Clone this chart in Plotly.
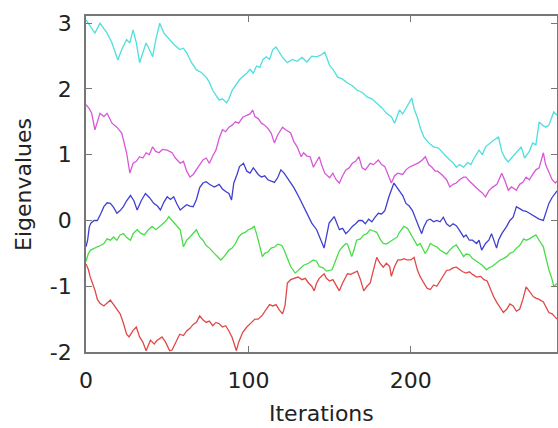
import plotly.graph_objects as go

# ---- data (iteration, eigenvalue) ----
cyan_x = [0, 3, 5.5, 8.6, 11, 13, 16, 19.6, 22, 25, 27, 29, 31, 33, 35, 37, 39, 41, 43, 45.4, 48, 51.5, 54, 57.7, 60, 62, 65, 68, 71, 74, 76, 78, 80, 82, 84, 86.5, 88, 90, 92, 94.5, 97, 99, 101, 103, 105, 107, 109, 111, 113, 115, 117, 119, 121, 124, 127, 130, 133, 136, 139, 142, 145, 147, 150, 152, 155, 158, 161, 164, 167, 170, 173, 176, 179, 182, 185, 188, 190, 192, 193, 195, 197, 199, 200.6, 202, 204, 206, 208, 211, 214, 217, 220, 222, 224, 226, 228, 230, 232.5, 235, 237, 239, 242, 244, 246, 248.6, 251, 254, 256, 258, 260, 262, 265, 268, 270, 273, 275, 277, 279, 281, 283, 285, 288, 290]
cyan_y = [3.05, 2.95, 2.85, 3.0, 2.92, 2.85, 2.7, 2.44, 2.6, 2.75, 2.7, 2.9, 2.7, 2.4, 2.55, 2.7, 2.6, 2.49, 2.75, 3.0, 2.85, 2.75, 2.68, 2.6, 2.62, 2.55, 2.4, 2.29, 2.25, 2.18, 2.1, 1.98, 1.9, 1.83, 1.85, 1.79, 1.85, 1.98, 2.05, 2.14, 2.2, 2.24, 2.3, 2.24, 2.35, 2.33, 2.45, 2.49, 2.45, 2.6, 2.64, 2.55, 2.48, 2.4, 2.45, 2.42, 2.48, 2.41, 2.5, 2.49, 2.52, 2.56, 2.36, 2.3, 2.18, 2.15, 2.09, 2.05, 1.98, 1.95, 1.88, 1.85, 1.79, 1.72, 1.63, 1.58, 1.48, 1.6, 1.68, 1.62, 1.7, 1.78, 1.86, 1.7, 1.57, 1.4, 1.27, 1.18, 1.12, 1.1, 1.03, 0.97, 0.92, 0.88, 0.81, 0.85, 0.81, 0.88, 0.85, 0.95, 1.07, 1.0, 1.12, 1.18, 1.22, 1.27, 1.05, 0.95, 0.89, 0.95, 1.03, 1.12, 0.95, 1.05, 1.18, 1.15, 1.5, 1.45, 1.42, 1.45, 1.65, 1.6]

magenta_x = [0, 2, 3.5, 5.5, 7, 8.6, 11, 13, 16, 19, 22, 24, 25, 27, 29, 31, 33, 35, 37, 39, 41, 43, 45, 47, 50, 53, 55, 58, 60, 62, 64, 66, 68, 70, 72, 74, 76, 78, 80, 82, 84, 86, 88, 90, 92, 94, 96.5, 99, 101, 102.6, 104, 106, 108, 110, 112, 114, 116, 118, 121, 123, 126, 128, 130, 132.5, 134, 136, 138, 140, 142, 143.6, 145, 147, 150, 152, 154, 156, 158, 160, 162, 164, 166, 168, 170, 172, 175, 177, 180, 182, 184, 186, 188, 190, 192, 195, 197, 199, 202, 205, 207, 209, 211, 213, 215, 216.5, 219, 222, 224, 226, 228, 230, 232.5, 234, 236, 238, 240, 242, 244, 246, 248, 250, 253, 256, 258, 260, 262, 265, 267, 269, 271, 273, 275, 277, 279, 281.6, 283, 285, 287, 289, 290]
magenta_y = [1.76, 1.7, 1.63, 1.38, 1.5, 1.63, 1.58, 1.63, 1.48, 1.42, 1.33, 1.15, 1.03, 0.72, 0.87, 0.9, 0.97, 0.95, 1.03, 1.0, 1.12, 1.05, 1.03, 1.08, 1.07, 1.03, 0.95, 0.87, 0.9, 0.75, 0.66, 0.7, 0.77, 0.85, 0.92, 0.95, 0.87, 0.98, 1.07, 1.25, 1.38, 1.35, 1.42, 1.45, 1.5, 1.48, 1.57, 1.6, 1.62, 1.68, 1.58, 1.55, 1.48, 1.45, 1.4, 1.33, 1.18, 1.3, 1.42, 1.38, 1.33, 1.2, 1.12, 0.97, 1.03, 0.98, 0.97, 0.81, 0.9, 0.97, 0.85, 0.72, 0.65, 0.72, 0.62, 0.57, 0.68, 0.77, 0.8, 0.87, 0.9, 0.97, 0.8, 0.77, 0.87, 0.85, 0.92, 0.85, 0.82, 0.7, 0.57, 0.68, 0.72, 0.7, 0.77, 0.81, 0.85, 0.88, 0.92, 0.97, 0.85, 0.81, 0.75, 0.75, 0.7, 0.62, 0.51, 0.55, 0.57, 0.62, 0.66, 0.66, 0.6, 0.55, 0.5, 0.46, 0.42, 0.36, 0.45, 0.5, 0.55, 0.72, 0.6, 0.46, 0.51, 0.46, 0.55, 0.58, 0.66, 0.62, 0.7, 0.77, 0.8, 1.03, 0.85, 0.72, 0.62, 0.57, 0.6]

blue_x = [0, 1, 2, 3, 5, 7, 9, 11, 13, 15, 17, 19, 21, 23, 25, 27.4, 29.5, 31.5, 34, 36.6, 39, 41.7, 44, 45.8, 48, 50, 52, 54, 56, 58, 60, 62, 64, 66, 68, 70, 72, 74, 76, 79, 82, 84, 86, 88, 89.6, 91, 93, 94.5, 97, 99, 101, 103, 104, 106, 108, 110, 112, 114, 116, 118, 120, 122, 124, 126, 128, 131, 134, 136, 139, 142, 144, 146.6, 148, 149.7, 152.8, 154, 156, 158, 160, 162, 164, 166, 168, 170, 172, 174, 176, 178, 180, 182, 184, 186.5, 188, 189.6, 191, 193, 195, 197, 199, 201, 203.7, 205, 206.7, 208, 210, 212, 214, 216, 218, 220, 222, 224, 226, 228, 230, 232.5, 234, 236, 238, 240.5, 242, 243.6, 246, 248, 249.7, 251, 252.8, 254, 256, 259, 261, 263, 265, 267, 269, 271, 273, 275, 277, 279, 281.6, 283, 285, 287, 290]
blue_y = [-0.4, -0.3, -0.1, -0.04, 0.0, 0.0, 0.1, 0.21, 0.27, 0.26, 0.2, 0.11, 0.15, 0.21, 0.3, 0.38, 0.3, 0.16, 0.3, 0.41, 0.35, 0.26, 0.22, 0.16, 0.28, 0.36, 0.32, 0.36, 0.25, 0.16, 0.2, 0.24, 0.22, 0.21, 0.32, 0.5, 0.57, 0.59, 0.55, 0.51, 0.55, 0.48, 0.44, 0.41, 0.31, 0.57, 0.7, 0.82, 0.87, 0.75, 0.72, 0.8, 0.77, 0.7, 0.66, 0.68, 0.62, 0.6, 0.58, 0.65, 0.77, 0.72, 0.65, 0.57, 0.5, 0.36, 0.21, 0.1, -0.04, -0.14, -0.25, -0.42, -0.25, -0.04, 0.06, -0.02, -0.14, -0.12, -0.2, -0.15, -0.09, -0.05, 0.0, 0.0, -0.05, 0.02, -0.02, 0.05, 0.11, 0.1, 0.15, 0.36, 0.45, 0.57, 0.52, 0.45, 0.38, 0.26, 0.22, 0.15, -0.04, -0.1, -0.2, -0.1, 0.0, 0.02, -0.02, 0.0, -0.02, 0.05, -0.05, -0.09, -0.05, -0.08, -0.15, -0.25, -0.22, -0.3, -0.3, -0.35, -0.3, -0.45, -0.35, -0.3, -0.2, -0.3, -0.42, -0.3, -0.2, -0.09, 0.0, 0.05, 0.21, 0.18, 0.15, 0.14, 0.11, 0.08, 0.05, 0.02, 0.0, 0.1, 0.26, 0.35, 0.45]

green_x = [0, 1.5, 2.9, 5, 7, 9, 11, 13, 15, 17, 19, 21, 23, 25, 27.4, 29, 31.5, 34, 36, 38, 40.7, 43, 45, 47.9, 50, 51, 53, 55, 57, 58, 60, 62, 64, 66, 68, 70, 72, 74, 76, 79, 81, 83, 85, 88, 90, 92, 94, 96, 98, 100, 102, 103.5, 105, 106.5, 108.6, 110, 112, 114, 116.5, 118, 120.6, 122, 124.7, 126, 128.8, 130, 132, 134, 137, 140, 142, 143.6, 146, 148, 151.5, 154, 156, 158, 160, 161, 163.6, 165, 166.6, 169, 171, 173, 174.8, 177, 179, 181, 183, 185, 187, 189, 191.6, 193, 195.7, 198, 200, 202, 204, 205.7, 207, 208.8, 210, 212, 214, 216, 218, 220, 222, 224, 226, 228, 230, 232.5, 234, 236, 238, 240.5, 242, 244, 246.6, 248, 250, 252, 255, 257, 259, 261, 263, 265, 267, 269.5, 271, 273, 275, 277, 279, 281.6, 283, 285, 287, 288, 290]
green_y = [-0.62, -0.5, -0.45, -0.42, -0.4, -0.38, -0.35, -0.28, -0.3, -0.25, -0.3, -0.22, -0.2, -0.26, -0.3, -0.2, -0.14, -0.2, -0.22, -0.15, -0.09, -0.14, -0.1, -0.04, 0.02, 0.06, 0.0, -0.05, -0.1, -0.14, -0.4, -0.3, -0.25, -0.2, -0.14, -0.25, -0.3, -0.38, -0.42, -0.5, -0.55, -0.6, -0.55, -0.45, -0.42, -0.35, -0.25, -0.2, -0.18, -0.14, -0.12, -0.09, -0.2, -0.35, -0.55, -0.5, -0.48, -0.42, -0.4, -0.36, -0.38, -0.45, -0.6, -0.7, -0.8, -0.77, -0.72, -0.68, -0.65, -0.6, -0.62, -0.7, -0.72, -0.77, -0.75, -0.6, -0.46, -0.4, -0.35, -0.36, -0.55, -0.45, -0.3, -0.28, -0.22, -0.2, -0.14, -0.16, -0.18, -0.28, -0.35, -0.36, -0.33, -0.3, -0.25, -0.18, -0.09, -0.12, -0.2, -0.3, -0.38, -0.35, -0.42, -0.5, -0.46, -0.35, -0.38, -0.4, -0.45, -0.48, -0.51, -0.45, -0.4, -0.37, -0.45, -0.55, -0.51, -0.52, -0.58, -0.62, -0.65, -0.68, -0.75, -0.72, -0.7, -0.66, -0.6, -0.58, -0.55, -0.5, -0.48, -0.42, -0.38, -0.28, -0.3, -0.28, -0.25, -0.22, -0.3, -0.4, -0.55, -0.75, -0.9, -1.0, -0.96]

red_x = [0, 1.5, 2.5, 4, 5.5, 7, 8.6, 11, 13, 15, 17, 19, 21, 23, 25, 26.5, 29, 31, 33, 35, 37, 39.7, 42, 43.5, 46.8, 49, 51.5, 53, 56, 57.7, 60, 62, 64, 66, 68, 70, 72, 74, 76, 78, 80, 82, 84, 86, 88, 90, 92.6, 94, 96.5, 99, 102, 104, 106, 108.6, 111, 113, 115, 117, 119, 121, 122.5, 124, 126, 128, 130.5, 133, 135, 137, 139, 140.5, 142, 143.6, 146.6, 148, 150, 152, 154, 156, 158, 161, 163, 165, 167, 169, 171, 173, 175, 177, 179, 181, 183, 185, 187, 188, 190, 192, 194, 196, 197.5, 200, 202, 204, 205.7, 208, 210, 212, 214, 216, 218, 220, 222, 224, 226, 228, 230, 232, 234, 236, 238, 240.5, 243, 245, 247, 249, 251, 253, 255, 257, 259, 261, 263, 265, 267, 269, 271, 273, 275.5, 277, 279, 281.6, 283, 285, 287, 290]
red_y = [-0.66, -0.75, -0.85, -0.95, -1.06, -1.2, -1.26, -1.3, -1.25, -1.21, -1.28, -1.36, -1.42, -1.56, -1.73, -1.77, -1.67, -1.62, -1.77, -1.85, -1.98, -1.82, -1.88, -1.83, -1.77, -1.85, -1.98, -1.97, -1.82, -1.73, -1.75, -1.68, -1.64, -1.58, -1.55, -1.45, -1.51, -1.55, -1.53, -1.6, -1.55, -1.57, -1.62, -1.6, -1.68, -1.78, -1.98, -1.85, -1.7, -1.62, -1.55, -1.5, -1.5, -1.44, -1.35, -1.28, -1.3, -1.28, -1.36, -1.42, -1.3, -0.95, -0.9, -0.88, -0.86, -0.9, -0.88, -0.95, -1.0, -1.07, -0.95, -0.88, -0.81, -0.88, -0.92, -0.9, -0.98, -1.07, -0.95, -0.81, -0.82, -0.8, -0.77, -0.9, -1.07, -1.0, -0.95, -0.75, -0.56, -0.65, -0.71, -0.65, -0.7, -0.85, -0.7, -0.6, -0.6, -0.58, -0.6, -0.6, -0.56, -0.75, -0.85, -0.95, -1.03, -1.05, -0.98, -1.0, -0.92, -0.82, -0.76, -0.75, -0.72, -0.71, -0.75, -0.78, -0.8, -0.78, -0.82, -0.86, -0.85, -0.9, -0.92, -1.05, -1.16, -1.25, -1.32, -1.4, -1.35, -1.27, -1.3, -1.38, -1.35, -1.2, -1.01, -1.08, -1.16, -1.18, -1.2, -1.24, -1.3, -1.4, -1.42, -1.5]

x_ticks = [0, 100, 200]
x_tick_labels = ["0", "100", "200"]
y_ticks = [-2, -1, 0, 1, 2, 3]
y_tick_labels = ["-2", "-1", "0", "1", "2", "3"]
x_title = "Iterations"
y_title = "Eigenvalues"

series = [
    (red_x, red_y, "#e04848"),
    (green_x, green_y, "#48dc48"),
    (blue_x, blue_y, "#4040d0"),
    (magenta_x, magenta_y, "#d858d8"),
    (cyan_x, cyan_y, "#50dede"),
]

fig = go.Figure()
for xs, ys, col in series:
    fig.add_trace(go.Scatter(x=xs, y=ys, mode="lines",
                             line=dict(color=col, width=1.3),
                             showlegend=False, hoverinfo="skip"))

font = "DejaVu Sans, Verdana, sans-serif"
axis_common = dict(
    showgrid=False, zeroline=False, automargin=False,
    showline=True, linecolor="#777777", linewidth=1.6, mirror="ticks",
    ticks="inside", ticklen=6, tickwidth=1, tickcolor="#777777",
    tickfont=dict(family=font, size=22, color="#222222"),
)

fig.update_layout(
    width=558, height=428,
    margin=dict(l=86, r=1, t=16, b=76),
    paper_bgcolor="white", plot_bgcolor="white",
    xaxis=dict(range=[0, 290], tickvals=x_ticks, ticktext=x_tick_labels,
               ticklabelstandoff=8, **axis_common),
    yaxis=dict(range=[-2, 3.11], tickvals=y_ticks, ticktext=y_tick_labels,
               ticklabelstandoff=8, **axis_common),
    annotations=[
        dict(text=x_title, xref="paper", yref="paper", x=0.5, y=-0.2262,
             xanchor="center", yanchor="bottom", showarrow=False,
             font=dict(family=font, size=22, color="#222222")),
        dict(text=y_title, xref="paper", yref="paper", x=-0.1338, y=0.5,
             xanchor="center", yanchor="middle", textangle=-90, showarrow=False,
             font=dict(family=font, size=22, color="#222222")),
    ],
)

fig.write_html("out.html",
               config={"displayModeBar": False},
               post_script="document.body.style.margin='0px';document.body.style.overflow='hidden';")
